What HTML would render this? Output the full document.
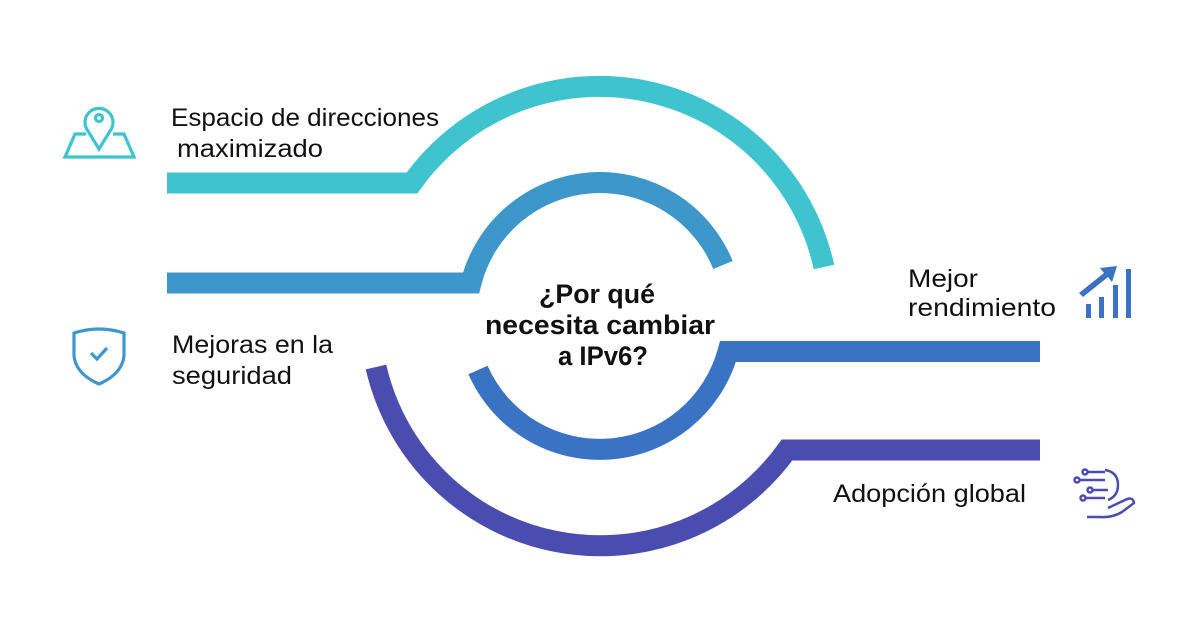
<!DOCTYPE html>
<html><head><meta charset="utf-8"><style>
html,body{margin:0;padding:0;background:#fff}
svg{display:block}
text{font-family:"Liberation Sans",sans-serif;fill:#111}
</style></head><body>
<svg width="1200" height="633" viewBox="0 0 1200 633">
<g fill="none" stroke-width="21" stroke-linecap="butt">
<path d="M167 183 L412 183 A230 230 0 0 1 824 267" stroke="#3ec3cf"/>
<path d="M167 283 L471 283 A133 133 0 0 1 723 265" stroke="#3d97cb"/>
<path d="M1040 351.5 L728 351.5 A133 133 0 0 1 478 370" stroke="#3b73c4"/>
<path d="M1040 450 L787 450 A230 230 0 0 1 376 367" stroke="#4b4caf"/>
</g>
<g font-size="25">
<text x="171" y="126" textLength="268" lengthAdjust="spacingAndGlyphs">Espacio de direcciones</text>
<text x="177" y="157" textLength="146" lengthAdjust="spacingAndGlyphs">maximizado</text>
<text x="172" y="353" textLength="161" lengthAdjust="spacingAndGlyphs">Mejoras en la</text>
<text x="172" y="384" textLength="120" lengthAdjust="spacingAndGlyphs">seguridad</text>
<text x="908" y="287" textLength="70" lengthAdjust="spacingAndGlyphs">Mejor</text>
<text x="908" y="316" textLength="148" lengthAdjust="spacingAndGlyphs">rendimiento</text>
<text x="833" y="502" textLength="193" lengthAdjust="spacingAndGlyphs">Adopción global</text>
</g>
<g font-weight="bold" font-size="27" text-anchor="middle">
<text x="597" y="303" textLength="116" lengthAdjust="spacingAndGlyphs">¿Por qué</text>
<text x="600" y="334" textLength="230" lengthAdjust="spacingAndGlyphs">necesita cambiar</text>
<text x="603" y="365" textLength="90" lengthAdjust="spacingAndGlyphs">a IPv6?</text>
</g>
<!-- map pin icon -->
<g fill="none" stroke="#3ec3cf" stroke-width="3.2">
<path d="M86 134 L75 134 L65 157 L134 157 L124 134 L113 134"/>
<path d="M99 149 L88 131 A14 14 0 1 1 110 131 Z"/>
<circle cx="99" cy="118" r="3.5"/>
</g>
<!-- shield -->
<g fill="none" stroke="#3d97cb" stroke-width="3.2">
<path d="M74 333 Q99 325 124 333 L124 356 Q122 374 99 384 Q76 374 74 356 Z"/>
<path d="M91 353 L97 359 L107 348"/>
</g>
<!-- chart -->
<g fill="#3b73c4">
<rect x="1086" y="304" width="5" height="14"/>
<rect x="1099" y="297" width="5" height="21"/>
<rect x="1113" y="285" width="5" height="33"/>
<rect x="1126" y="269" width="5" height="49"/>
<path d="M1079 293 L1104 273 L1100 268 L1117 266 L1112 282 L1108 277 L1083 297 Z"/>
</g>
<!-- hand/tech -->
<g fill="none" stroke="#4b4caf" stroke-width="2.5">
<circle cx="1077" cy="480" r="2.5"/><circle cx="1085" cy="472" r="2.5"/><circle cx="1090" cy="490" r="2.5"/><circle cx="1083" cy="498" r="2.5"/>
<path d="M1080 480 L1105 480 M1088 472 L1105 472 M1093 490 L1108 490 M1086 498 L1105 498"/>
<path d="M1105 470 Q1118 472 1118 485 Q1118 496 1108 500"/>
<path d="M1108 508 L1125 500 Q1133 496 1134 503 L1122 512 Q1112 518 1100 517 L1087 517"/>
</g>
</svg>
</body></html>
